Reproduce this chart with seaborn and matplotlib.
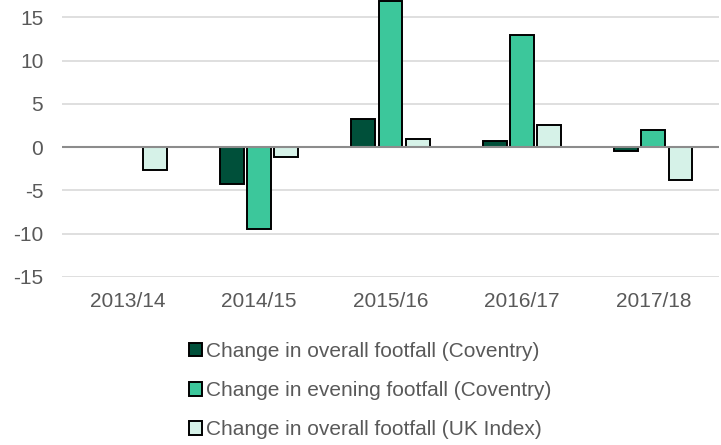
import numpy as np
import pandas as pd
import matplotlib
matplotlib.use("Agg")
import matplotlib.pyplot as plt
import seaborn as sns

years = ["2013/14", "2014/15", "2015/16", "2016/17", "2017/18"]
series_names = [
    "Change in overall footfall (Coventry)",
    "Change in evening footfall (Coventry)",
    "Change in overall footfall (UK Index)",
]
overall_coventry = [np.nan, -4.2, 3.2, 0.7, -0.4]
evening_coventry = [np.nan, -9.4, 16.9, 13.0, 2.0]
overall_uk = [-2.6, -1.1, 1.0, 2.6, -3.8]
colors = ["#00503A", "#3CC79B", "#D6F2E8"]
y_ticks = [-15, -10, -5, 0, 5, 10, 15]

rows = []
for name, vals in zip(series_names, [overall_coventry, evening_coventry, overall_uk]):
    for y, v in zip(years, vals):
        rows.append({"year": y, "series": name, "value": v})
df = pd.DataFrame(rows)

sns.set_theme(style="white")
plt.rcParams["font.family"] = ["Liberation Sans", "DejaVu Sans"]

fig = plt.figure(figsize=(7.21, 4.45), dpi=100)
ax = fig.add_axes([62 / 721, 1 - 277 / 445, 657 / 721, 277 / 445])

sns.barplot(data=df, x="year", y="value", hue="series", order=years,
            hue_order=series_names, palette=colors, width=0.62, gap=0.12,
            edgecolor="black", linewidth=1.4, ax=ax, errorbar=None,
            saturation=1, zorder=3)

ax.set_ylim(-15, 17)
ax.set_yticks(y_ticks)
ax.set_yticklabels([str(t) for t in y_ticks])
for t in y_ticks:
    if t != 0:
        ax.axhline(t, color="#D9D9D9", linewidth=1.2, zorder=0)
ax.axhline(0, color="#8C8C8C", linewidth=1.5, zorder=4)

for s in ax.spines.values():
    s.set_visible(False)
ax.set_xlabel("")
ax.set_ylabel("")
ax.tick_params(axis="both", length=0, labelsize=15, labelcolor="#595959")
ax.tick_params(axis="y", pad=13.5)
ax.tick_params(axis="x", pad=11)

handles, labels = ax.get_legend_handles_labels()
ax.get_legend().remove()
leg = fig.legend(handles, labels, loc="upper left", bbox_to_anchor=(189 / 721, 1 - 342 / 445),
                 ncol=1, frameon=False, fontsize=15, handlelength=0.62,
                 handleheight=0.62, handletextpad=0.2, labelspacing=0.97,
                 borderpad=0, borderaxespad=0)
for t in leg.get_texts():
    t.set_color("#595959")

fig.savefig("out.png", dpi=100)
